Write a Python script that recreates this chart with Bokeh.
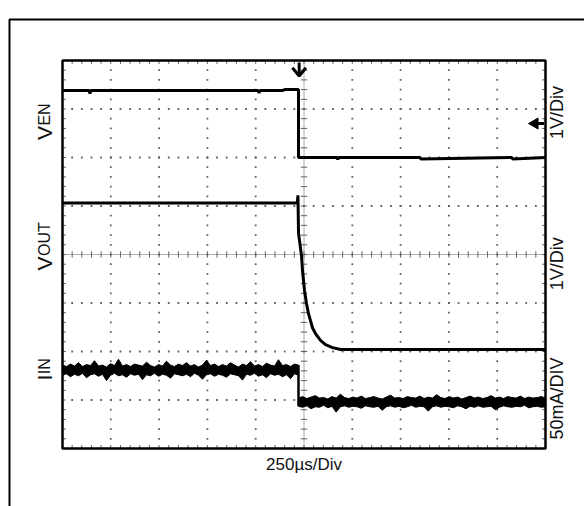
import numpy as np
from bokeh.plotting import figure
from bokeh.models import Range1d
from bokeh.embed import file_html
from bokeh.resources import INLINE
from bokeh.core.properties import value

# ---------------- data (in screen divisions: x 0..10, y 0..8) ----------------
VEN_T = [0.0, 0.55, 0.57, 0.59, 2.0, 4.05, 4.07, 4.09, 4.55, 4.60, 4.886, 4.886,
         5.68, 5.70, 5.72, 7.40, 7.42, 9.30, 9.32, 10.0]
VEN_V = [7.38, 7.38, 7.32, 7.38, 7.38, 7.38, 7.33, 7.38, 7.38, 7.40, 7.40, 6.00,
         6.00, 5.96, 6.00, 6.00, 5.97, 6.00, 5.97, 6.00]

VOUT_T = [0.0, 4.86, 4.875, 4.886, 4.907, 4.948, 4.969, 4.990, 5.010, 5.052, 5.093,
          5.176, 5.238, 5.342, 5.445, 5.590, 5.756, 10.0]
VOUT_V = [5.06, 5.06, 5.22, 4.45, 4.29, 3.98, 3.67, 3.46, 3.26, 2.99, 2.78,
          2.49, 2.37, 2.23, 2.14, 2.08, 2.04, 2.04]

# input current: noise envelope (upper / lower edge of the trace band)
IIN_HIGH_UP = [1.72, 1.69, 1.74, 1.70, 1.77, 1.69, 1.73, 1.71, 1.81, 1.70,
               1.72, 1.68, 1.75, 1.71, 1.84, 1.70, 1.73, 1.69, 1.74, 1.72,
               1.70, 1.78, 1.71, 1.68, 1.73, 1.70, 1.80, 1.72, 1.69, 1.74,
               1.71, 1.77, 1.70, 1.73, 1.68, 1.72, 1.82, 1.71, 1.74, 1.69,
               1.73, 1.70, 1.77, 1.72, 1.68, 1.74, 1.71, 1.79, 1.70, 1.73,
               1.69, 1.76, 1.72, 1.70, 1.83, 1.71, 1.73, 1.69, 1.74, 1.72]
IIN_HIGH_LO = [1.51, 1.54, 1.48, 1.53, 1.50, 1.55, 1.46, 1.52, 1.54, 1.49,
               1.53, 1.40, 1.51, 1.55, 1.50, 1.52, 1.47, 1.54, 1.51, 1.53,
               1.42, 1.52, 1.50, 1.55, 1.49, 1.53, 1.51, 1.45, 1.54, 1.52,
               1.50, 1.53, 1.48, 1.55, 1.51, 1.43, 1.52, 1.54, 1.49, 1.53,
               1.51, 1.47, 1.54, 1.52, 1.50, 1.41, 1.53, 1.51, 1.55, 1.49,
               1.52, 1.46, 1.54, 1.51, 1.53, 1.48, 1.52, 1.44, 1.54, 1.51]
IIN_LOW_UP = [1.04, 1.07, 1.03, 1.06, 1.09, 1.04, 1.05, 1.02, 1.07, 1.04,
              1.12, 1.05, 1.03, 1.06, 1.04, 1.08, 1.03, 1.05, 1.07, 1.04,
              1.02, 1.06, 1.10, 1.04, 1.05, 1.03, 1.07, 1.05, 1.04, 1.08,
              1.03, 1.06, 1.04, 1.11, 1.05, 1.03, 1.07, 1.04, 1.06, 1.02,
              1.05, 1.08, 1.04, 1.06, 1.03, 1.05, 1.09, 1.04, 1.06, 1.03,
              1.07, 1.05, 1.04, 1.08, 1.03, 1.06, 1.04, 1.05, 1.07, 1.04]
IIN_LOW_LO = [0.87, 0.85, 0.88, 0.82, 0.86, 0.85, 0.89, 0.84, 0.87, 0.75,
              0.86, 0.88, 0.85, 0.87, 0.86, 0.83, 0.88, 0.86, 0.85, 0.87,
              0.79, 0.86, 0.88, 0.85, 0.87, 0.84, 0.86, 0.89, 0.85, 0.87,
              0.86, 0.77, 0.86, 0.88, 0.85, 0.87, 0.86, 0.84, 0.88, 0.86,
              0.82, 0.87, 0.85, 0.88, 0.85, 0.86, 0.87, 0.80, 0.85, 0.88,
              0.86, 0.85, 0.87, 0.86, 0.89, 0.84, 0.86, 0.87, 0.85, 0.86]
IIN_EDGE_T = 4.886

TRIGGER_X = 4.9
GROUND_MARK_Y = 6.70

LEFT_LABELS = [("V", "EN"), ("V", "OUT"), ("I", "IN")]
LEFT_LABEL_Y = [6.36, 3.67, 1.40]
RIGHT_LABELS = ["1V/Div", "1V/Div", "50mA/DIV"]
RIGHT_LABEL_Y = [6.93, 3.81, 1.03]
X_LABEL = "250\u00b5s/Div"

N_XDIV = 10
N_YDIV = 8
FONT = "Liberation Sans"

# page geometry: divisions are 48.3 px wide and 48.5 px tall, screen origin at page (62, 448)
PX_X, PX_Y = 48.3, 48.5
W, H = 584, 506
x_lo = -62 / PX_X
x_hi = x_lo + W / PX_X
y_hi = 448 / PX_Y
y_lo = y_hi - H / PX_Y

p = figure(width=W, height=H,
           x_range=Range1d(x_lo, x_hi), y_range=Range1d(y_lo, y_hi),
           x_axis_type=None, y_axis_type=None,
           output_backend="svg", toolbar_location=None,
           min_border_left=0, min_border_right=0,
           min_border_top=0, min_border_bottom=0)
p.outline_line_color = None
p.background_fill_color = "white"
p.border_fill_color = "white"

# outer frame (top & left edges)
fx = (9 - 62) / PX_X
fy = (448 - 19) / PX_Y
p.line([fx, fx, x_hi + 1], [y_lo - 1, fy, fy], line_color="black", line_width=2)

GRID_C = "#606060"
step = 0.2
xs_fine = np.arange(step, N_XDIV - 0.01, step)
ys_fine = np.arange(step, N_YDIV - 0.01, step)
gx, gy = [], []
for yd in range(1, N_YDIV):
    if yd == N_YDIV // 2:
        continue
    gx.extend(xs_fine); gy.extend([yd] * len(xs_fine))
for xd in range(1, N_XDIV):
    if xd == N_XDIV // 2:
        continue
    gx.extend([xd] * len(ys_fine)); gy.extend(ys_fine)
p.scatter(gx, gy, marker="square", size=1.8, color=GRID_C, line_width=0)

cx, cy = N_XDIV / 2, N_YDIV / 2
p.segment(x0=[0], y0=[cy], x1=[N_XDIV], y1=[cy], line_color=GRID_C, line_width=1, line_dash="1 1")
p.segment(x0=[cx], y0=[0], x1=[cx], y1=[N_YDIV], line_color=GRID_C, line_width=1, line_dash="1 1")
tk = 0.065
p.segment(x0=xs_fine, y0=cy - tk, x1=xs_fine, y1=cy + tk, line_color=GRID_C, line_width=1)
p.segment(x0=cx - tk, y0=ys_fine, x1=cx + tk, y1=ys_fine, line_color=GRID_C, line_width=1)

et = 0.07
p.segment(x0=xs_fine, y0=0, x1=xs_fine, y1=et, line_color=GRID_C, line_width=1)
p.segment(x0=xs_fine, y0=N_YDIV, x1=xs_fine, y1=N_YDIV - et, line_color=GRID_C, line_width=1)
p.segment(x0=0, y0=ys_fine, x1=et, y1=ys_fine, line_color=GRID_C, line_width=1)
p.segment(x0=N_XDIV, y0=ys_fine, x1=N_XDIV - et, y1=ys_fine, line_color=GRID_C, line_width=1)

# ---------------- traces ----------------
p.line(VEN_T, VEN_V, line_color="black", line_width=3)
p.line(VOUT_T, VOUT_V, line_color="black", line_width=3)

th = np.linspace(0, IIN_EDGE_T, len(IIN_HIGH_UP))
tl = np.linspace(IIN_EDGE_T, N_XDIV, len(IIN_LOW_UP))
for t, up, lo in ((th, IIN_HIGH_UP, IIN_HIGH_LO), (tl, IIN_LOW_UP, IIN_LOW_LO)):
    p.varea(x=t, y1=lo, y2=up, fill_color="black")
    p.line(t, up, line_color="black", line_width=1)
    p.line(t, lo, line_color="black", line_width=1)
p.line([IIN_EDGE_T, IIN_EDGE_T], [IIN_HIGH_UP[-1], IIN_LOW_LO[0]], line_color="black", line_width=2.5)

# plot box
p.quad(left=[0], right=[N_XDIV], bottom=[0], top=[N_YDIV], fill_color=None,
       line_color="black", line_width=2.5)

# trigger marker (top) and level marker (right)
p.segment(x0=[TRIGGER_X], y0=[7.96], x1=[TRIGGER_X], y1=[7.70], line_color="black", line_width=3)
p.line([TRIGGER_X - 0.14, TRIGGER_X, TRIGGER_X + 0.14], [7.85, 7.68, 7.85],
       line_color="black", line_width=3)
p.scatter([9.78], [GROUND_MARK_Y], marker="triangle", angle=np.pi / 2, size=11, color="black")
p.segment(x0=[9.78], y0=[GROUND_MARK_Y], x1=[9.97], y1=[GROUND_MARK_Y], line_color="black", line_width=3)

# ---------------- texts ----------------
big, small = 21, 16
TXT = "#111111"
lx = -0.37
base_w = {"V": 0.667, "I": 0.278}
for (main, sub), yy in zip(LEFT_LABELS, LEFT_LABEL_Y):
    p.text(x=[lx], y=[yy], text=[main], angle=np.pi / 2, text_font=value(FONT),
           text_font_size=f"{big}px", text_align="left", text_baseline="alphabetic", text_color=TXT)
    p.text(x=[lx], y=[yy + base_w[main] * big / PX_Y + 0.01], text=[sub], angle=np.pi / 2,
           text_font=value(FONT), text_font_size=f"{small}px", text_align="left",
           text_baseline="alphabetic", text_color=TXT)

p.text(x=[10.23] * len(RIGHT_LABELS), y=RIGHT_LABEL_Y, text=RIGHT_LABELS, angle=np.pi / 2,
       text_font=value(FONT), text_font_size="18px", text_align="center",
       text_baseline="middle", text_color=TXT)

p.text(x=[5.0], y=[-0.33], text=[X_LABEL], text_font=value(FONT), text_font_size="17px",
       text_align="center", text_baseline="middle", text_color=TXT)

open("out.html", "w").write(file_html(p, INLINE))
